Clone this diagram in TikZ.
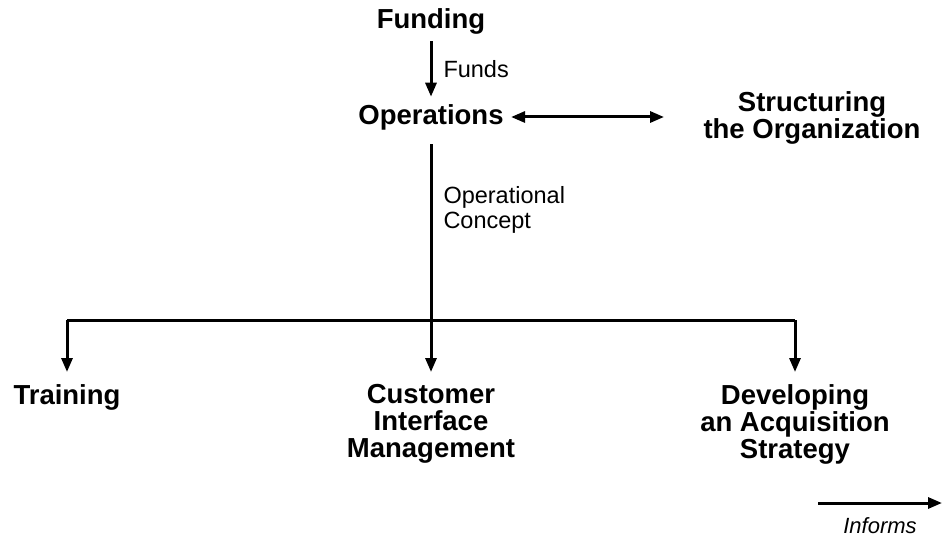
\documentclass[tikz,border=0pt]{standalone}
\usepackage{fontspec}
\setmainfont{Liberation Sans}
\usetikzlibrary{arrows.meta}

\tikzset{
  unit/.style={font=\bfseries\fontsize{27.5}{27}\selectfont, align=center, inner sep=6pt},
  kid/.style={unit, anchor=north, inner ysep=11pt},
  tag/.style={font=\fontsize{23.5}{25}\selectfont, align=left, inner sep=0pt},
  tip/.tip={Triangle[length=14pt,width=11pt]}
}

\begin{document}
\begin{tikzpicture}[x=1pt, y=-1pt, line width=3pt]
  \useasboundingbox (0,0) rectangle (943,540);
  \node[unit] (fund) at (431,21) {Funding};
  \node[unit] (ops) at (431,117) {Operations};
  \node[unit] (org) at (812,118) {Structuring\\the Organization};
  \node[kid] (train) at (67,372) {Training};
  \node[kid] (cim) at (431,372) {Customer\\Interface\\Management};
  \node[kid] (acq) at (795,372) {Developing\\an Acquisition\\Strategy};
  \coordinate (bus) at (431,320);
  \coordinate (busl) at (67,320);
  \coordinate (busr) at (795,320);
  \coordinate (keyl) at (818,503);
  \coordinate (keyr) at (942,503);
  \path[-tip]
  (fund) edge node [tag, right, xshift=11pt] {Funds} (ops)
  (ops.east) edge [tip-tip, shorten >=32pt] (ops.east -| org.west)
  (ops) edge [-, shorten <=7pt] node [tag, right, pos=0.40, xshift=11pt] {Operational\\Concept} (bus)
  (busl) edge [-] (busr)
  (busl) edge (train)
  (bus) edge (cim)
  (busr) edge (acq)
  (keyl) edge node [tag, below, yshift=-13pt, font=\itshape\fontsize{22}{25}\selectfont] {Informs} (keyr)
  ;
\end{tikzpicture}
\end{document}
